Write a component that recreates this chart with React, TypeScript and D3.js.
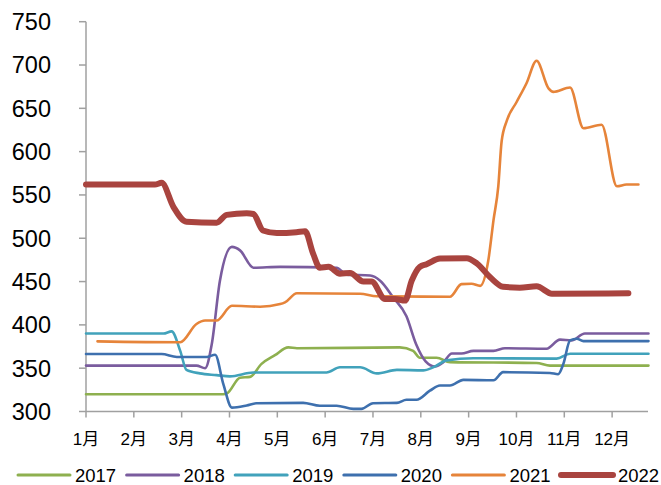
import React from "react";
import * as d3 from "d3";

// Month positions (0 = start of January) and prices per year
const monthLabels = ["1月", "2月", "3月", "4月", "5月", "6月", "7月", "8月", "9月", "10月", "11月", "12月"];
const yTicks = [300, 350, 400, 450, 500, 550, 600, 650, 700, 750];
const years = ["2017", "2018", "2019", "2020", "2021", "2022"];

const s2017: [number, number][] = [
  [0, 320], [2.87, 320], [2.95, 321], [3.22, 339], [3.43, 340], [3.67, 355], [3.95, 365],
  [4.23, 374], [4.41, 373], [6.56, 374], [6.84, 370], [6.98, 362], [7.33, 362], [7.61, 357],
  [9.42, 356], [9.7, 353], [11.76, 353],
];
const s2018: [number, number][] = [
  [0, 353], [2.31, 353], [2.49, 350], [2.63, 378], [2.8, 451], [3.05, 490], [3.22, 486],
  [3.5, 466], [4.06, 467], [5.24, 466], [5.45, 458], [5.94, 457], [6.15, 451], [6.42, 432],
  [6.7, 410], [6.9, 378], [7.1, 358], [7.3, 352], [7.47, 357], [7.65, 367], [7.85, 367],
  [8.1, 370], [8.52, 370], [8.76, 373], [9.63, 372.5], [9.91, 383], [10.15, 382], [10.43, 390],
  [11.76, 390],
];
const s2019: [number, number][] = [
  [0, 390], [1.62, 390], [1.79, 392.5], [1.97, 370], [2.1, 348], [2.38, 344], [2.73, 342],
  [3.01, 340.5], [3.5, 345], [5.03, 345], [5.31, 351], [5.73, 351], [6.08, 344], [6.5, 348],
  [7.05, 347.5], [7.26, 351], [7.54, 359], [8.1, 361.5], [9.84, 361], [10.12, 366.7],
  [11.76, 366.7],
];
const s2020: [number, number][] = [
  [0, 366.3], [1.58, 366.3], [1.9, 363], [2.52, 363], [2.7, 365.5], [2.87, 332], [3.05, 304.5],
  [3.36, 307], [3.57, 309.6], [4.54, 310], [4.89, 306.6], [5.24, 306.6], [5.59, 303], [5.76, 303],
  [6.0, 309.6], [6.5, 310], [6.7, 313.5], [6.91, 313.5], [7.19, 324], [7.4, 330], [7.61, 330],
  [7.89, 336.5], [8.52, 336], [8.72, 345.4], [9.7, 344.5], [9.87, 343], [9.98, 355], [10.12, 382],
  [10.26, 384], [10.4, 381.3], [11.76, 381.3],
];
const s2021: [number, number][] = [
  [0.24, 381], [1.97, 380], [2.31, 401], [2.49, 405], [2.73, 405], [3.05, 422], [3.64, 421],
  [4.06, 424], [4.16, 426], [4.41, 436.5], [5.73, 436], [6.08, 433], [7.61, 432.5], [7.85, 447],
  [8.06, 447.5], [8.24, 445], [8.41, 474], [8.52, 521], [8.62, 560], [8.69, 612], [8.8, 636],
  [9.0, 657], [9.21, 679], [9.42, 705], [9.67, 673], [9.77, 669], [10.12, 674], [10.4, 627],
  [10.78, 631], [11.1, 560], [11.3, 562], [11.55, 562],
];
const s2022: [number, number][] = [
  [0, 562], [1.44, 562], [1.58, 564], [1.83, 536], [2.1, 519], [2.73, 518], [2.94, 527],
  [3.36, 529], [3.5, 528], [3.7, 509], [3.99, 506], [4.4, 507], [4.58, 508], [4.75, 482],
  [4.89, 466], [5.07, 467], [5.31, 459], [5.52, 460], [5.8, 450], [5.97, 450], [6.25, 430],
  [6.46, 430], [6.67, 428], [6.81, 451], [6.98, 467], [7.12, 470], [7.4, 476.5], [7.96, 477],
  [8.17, 471], [8.45, 455], [8.72, 444], [9.07, 443], [9.42, 444.5], [9.74, 436], [11.34, 436.5],
];

const seriesData = [s2017, s2018, s2019, s2020, s2021, s2022];
const colors = ["#8eb04f", "#7a5c9e", "#41a2bb", "#3e70ae", "#e6843a", "#a9443f"];
const widths = [2.6, 2.6, 2.6, 2.6, 2.6, 6];

const W = 661;
const H = 485;
const left = 86;
const right = 648;
const top = 21.7;
const bottom = 411.5;

export default function App() {
  const x = d3.scaleLinear().domain([0, 11.75]).range([left, right]);
  const y = d3.scaleLinear().domain([300, 750]).range([bottom, top]);
  const line = d3
    .line<[number, number]>()
    .x((d) => x(d[0]))
    .y((d) => y(d[1]))
    .curve(d3.curveMonotoneX);

  const axisColor = "#a0a0a0";
  const font = "'Liberation Sans', Arial, 'Noto Sans CJK SC', sans-serif";
  const legendStep = 108.6;

  return (
    <svg
      width={W}
      height={H}
      style={{ position: "absolute", left: 0, top: 0, background: "#fff" }}
      fontFamily={font}
    >
      {/* y axis */}
      <line x1={left} x2={left} y1={top} y2={bottom} stroke={axisColor} strokeWidth={1.5} />
      {yTicks.map((t) => (
        <g key={t}>
          <line x1={left - 7} x2={left} y1={y(t)} y2={y(t)} stroke={axisColor} strokeWidth={1.5} />
          <text x={51} y={y(t)} dy="0.36em" textAnchor="end" fontSize={23.5} fill="#000">
            {t}
          </text>
        </g>
      ))}
      {/* x axis */}
      <line x1={left} x2={right} y1={bottom} y2={bottom} stroke={axisColor} strokeWidth={1.5} />
      {monthLabels.map((m, i) => (
        <g key={m}>
          <line x1={x(i)} x2={x(i)} y1={bottom} y2={bottom + 6} stroke={axisColor} strokeWidth={1.5} />
          <text x={x(i)} y={445} textAnchor="middle" fontSize={17} fill="#000">
            {m}
          </text>
        </g>
      ))}
      {/* series */}
      {seriesData.map((s, i) => (
        <path
          key={years[i]}
          d={line(s) || ""}
          fill="none"
          stroke={colors[i]}
          strokeWidth={widths[i]}
          strokeLinejoin="round"
          strokeLinecap="round"
        />
      ))}
      {/* legend */}
      {years.map((yr, i) => {
        const lx = 18 + i * legendStep;
        return (
          <g key={yr}>
            <line
              x1={lx}
              x2={lx + 52}
              y1={475}
              y2={475}
              stroke={colors[i]}
              strokeWidth={widths[i] === 6 ? 6 : 3}
              strokeLinecap="round"
            />
            <text x={lx + 57} y={475} dy="0.36em" fontSize={18.5} fill="#000">
              {yr}
            </text>
          </g>
        );
      })}
    </svg>
  );
}
